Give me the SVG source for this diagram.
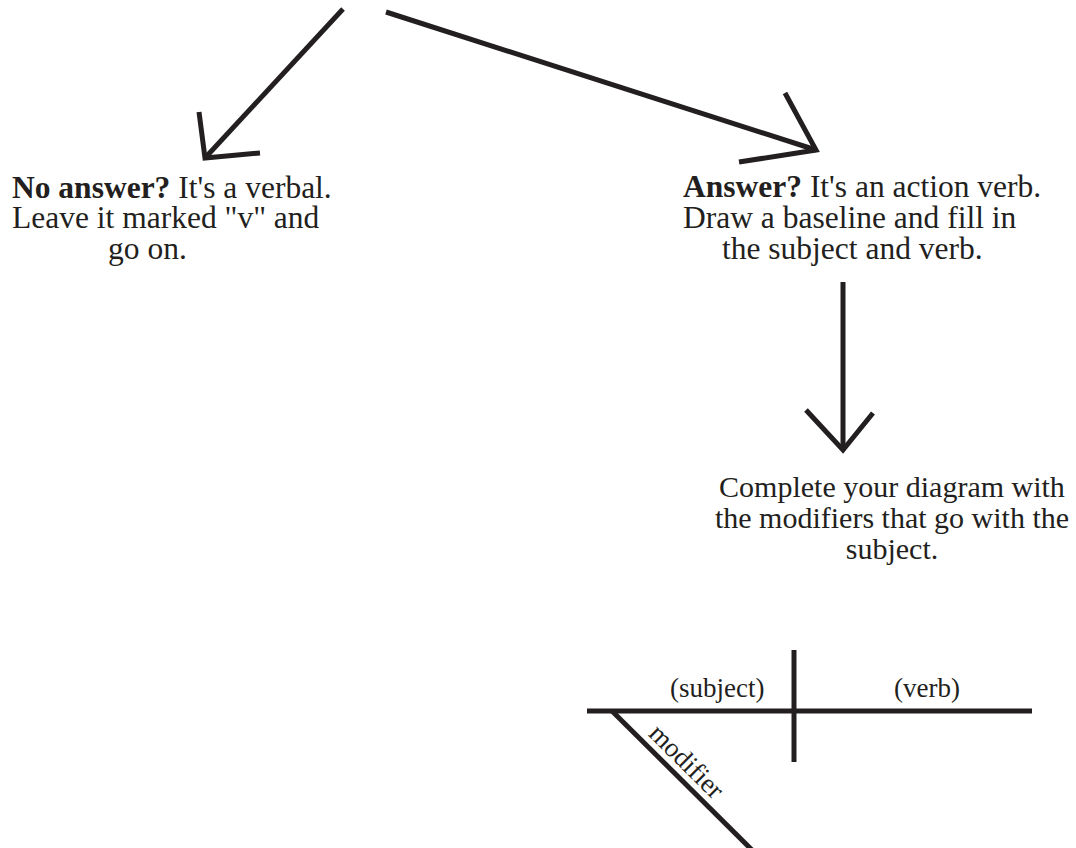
<svg xmlns="http://www.w3.org/2000/svg" width="1076" height="848" viewBox="0 0 1076 848">
<style>
.t{font-family:"Liberation Serif","Times New Roman",serif;font-size:31.5px;fill:#231f20}
.c{font-family:"Liberation Serif","Times New Roman",serif;font-size:30px;fill:#231f20;text-anchor:middle}
.l{font-family:"Liberation Serif","Times New Roman",serif;font-size:27px;fill:#231f20}
.b{font-weight:bold}
.s{stroke:#231f20;stroke-width:5;fill:none;stroke-linecap:butt;stroke-linejoin:miter}
</style>
<rect width="1076" height="848" fill="#fff"/>
<g id="connectors">
<path class="s" d="M343,9 L205,158"/>
<path class="s" d="M199,112 L205,158 L260,153"/>
<path class="s" d="M386,12 L816,150"/>
<path class="s" d="M785,93 L816,150 L739,162"/>
<path class="s" d="M843,282 L843,450"/>
<path class="s" d="M806,410 L843,450 L873,413"/>
</g>
<g id="no-answer">
<text class="t" x="12" y="198"><tspan class="b">No answer?</tspan> It's a verbal.</text>
<text class="t" x="12" y="228">Leave it marked "v" and</text>
<text class="t" x="108" y="259">go on.</text>
</g>
<g id="answer">
<text class="t" x="683" y="197"><tspan class="b">Answer?</tspan> It's an action verb.</text>
<text class="t" x="683" y="228">Draw a baseline and fill in</text>
<text class="t" x="722" y="259">the subject and verb.</text>
</g>
<g id="complete">
<text class="c" x="892" y="497">Complete your diagram with</text>
<text class="c" x="892" y="528">the modifiers that go with the</text>
<text class="c" x="892" y="559">subject.</text>
</g>
<g id="sentence-diagram">
<path class="s" d="M587,711 L1032,711"/>
<path class="s" d="M794,650 L794,762"/>
<path class="s" d="M612,711 L752,850"/>
<text class="l" x="670" y="697">(subject)</text>
<text class="l" x="894" y="697">(verb)</text>
<text class="l" transform="translate(612,711) rotate(44.8)" x="42" y="-8">modifier</text>
</g>
</svg>
